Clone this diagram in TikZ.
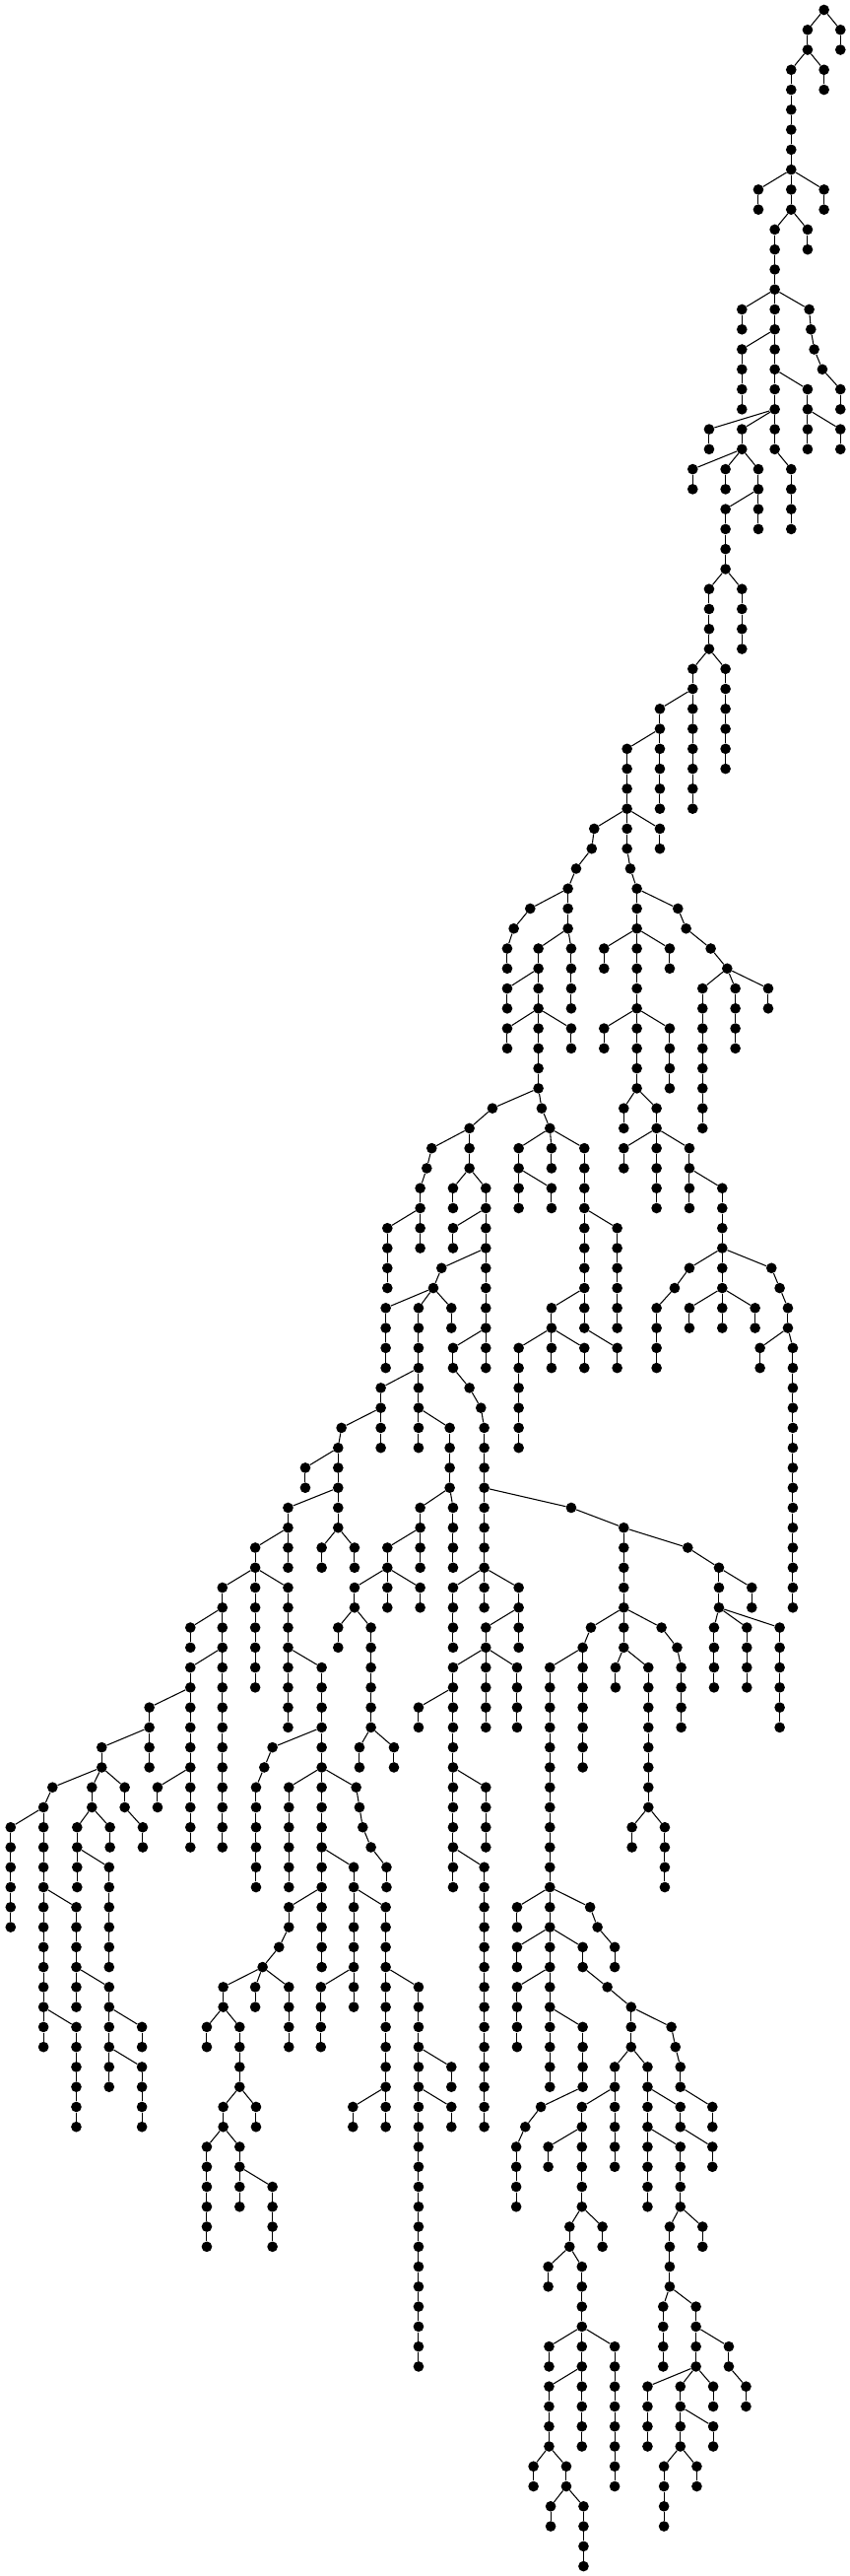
\documentclass[tikz,border=0pt]{standalone}
\tikzset{
  dot/.style={circle,fill=black,inner sep=0pt,minimum size=8pt},
  edge/.style={line width=0.8pt}
}
% one vertical run of dots: parent, name, x, first level, last level
\newcommand\limb[5]{%
  \foreach \lev in {#4,...,#5}{\node[dot] (#2-\lev) at (#3,\lev) {};}
  \draw[edge] (#1) -- (#2-#4);
  \ifnum#4<#5\relax
    \pgfmathtruncatemacro\limbnext{#4+1}%
    \foreach \lev [remember=\lev as \prev (initially #4)] in {\limbnext,...,#5}
      {\draw[edge] (#2-\prev) -- (#2-\lev);}%
  \fi}
\begin{document}
\begin{tikzpicture}[x=12.5pt,y=-15.2pt]
  \useasboundingbox (-0.198,-0.493) rectangle (51.58,128.49);

  % Top of the tree
  \node[dot] (r-0) at (50,0) {};
  \limb{r-0}{b}{49}{1}{2}
  \limb{r-0}{c}{51}{1}{2}
  \limb{b-2}{d}{48}{3}{10}
  \limb{b-2}{e}{50}{3}{4}
  \limb{d-8}{f}{46}{9}{10}
  \limb{d-8}{g}{50}{9}{10}
  \limb{d-10}{h}{47}{11}{22}
  \limb{d-10}{i}{49}{11}{12}
  \limb{h-14}{j}{45}{15}{16}
  \limb{h-14}{k}{49.1}{15}{15}
  \limb{k-15}{k}{49.2}{16}{16}
  \limb{k-16}{k}{49.4}{17}{17}
  \limb{k-17}{k}{49.9}{18}{18}
  \limb{k-18}{m}{51}{19}{20}
  \limb{h-16}{l}{45}{17}{20}
  \limb{h-18}{n}{49}{19}{22}
  \limb{n-20}{o}{51}{21}{22}
  \limb{h-20}{p}{43}{21}{22}
  \limb{h-20}{q}{45}{21}{22}
  \limb{q-22}{s}{42}{23}{24}
  \limb{q-22}{t}{44}{23}{24}
  \limb{q-22}{u}{46}{23}{26}
  \limb{h-22}{v}{48}{23}{26}
  \limb{u-24}{w}{44}{25}{28}

  % Upper trunk
  \limb{w-28}{aa}{43}{29}{32}
  \limb{w-28}{ab}{45}{29}{32}
  \limb{aa-32}{ac}{42}{33}{40}
  \limb{aa-32}{ad}{44}{33}{38}
  \limb{ac-34}{ae}{40}{35}{40}
  \limb{ae-36}{af}{38}{37}{42}
  \limb{af-40}{ag}{36}{41}{41}
  \limb{ag-41}{ag}{35.85}{42}{42}
  \limb{ag-42}{ag}{34.9}{43}{43}
  \limb{ag-43}{ah}{34.4}{44}{46}
  \limb{af-40}{ai}{40}{41}{42}
  \limb{af-42}{aj}{38.2}{43}{43}
  \limb{aj-43}{ak}{38.6}{44}{54}
  \limb{ah-44}{al}{32.1}{45}{45}
  \limb{al-45}{al}{31.1}{46}{46}
  \limb{al-46}{am}{30.7}{47}{48}
  \limb{ak-44}{an}{41.1}{45}{45}
  \limb{an-45}{an}{41.6}{46}{46}
  \limb{an-46}{an}{43.1}{47}{47}
  \limb{an-47}{an}{44.1}{48}{48}
  \limb{ah-46}{ao}{32.6}{47}{54}
  \limb{ah-46}{as}{34.6}{47}{50}
  \limb{ao-48}{ap}{30.7}{49}{50}
  \limb{ao-50}{aq}{30.7}{51}{52}
  \limb{ao-50}{ar}{34.6}{51}{52}
  \limb{ak-46}{at}{36.6}{47}{48}
  \limb{ak-46}{au}{40.6}{47}{48}
  \limb{ak-50}{av}{36.6}{51}{52}
  \limb{ak-50}{aw}{40.6}{51}{54}
  \limb{an-48}{ax}{42.6}{49}{56}
  \limb{an-48}{ay}{44.6}{49}{52}
  \limb{an-48}{az}{46.6}{49}{50}

  % Middle, left part
  \limb{ao-54}{ba}{29.8}{55}{55}
  \limb{ba-55}{bb}{28.4}{56}{58}
  \limb{bb-56}{bc}{26.1}{57}{57}
  \limb{bc-57}{bc}{25.8}{58}{58}
  \limb{bc-58}{bd}{25.4}{59}{62}
  \limb{bd-60}{be}{23.4}{61}{64}
  \limb{bb-58}{bf}{27.4}{59}{60}
  \limb{bb-58}{bg}{29.4}{59}{68}
  \limb{bg-60}{bh}{27.4}{61}{62}
  \limb{bg-62}{bi}{26.7}{63}{63}
  \limb{bi-63}{bi}{26.2}{64}{64}
  \limb{bi-64}{bj}{23.3}{65}{68}
  \limb{bi-64}{bk}{25.3}{65}{72}
  \limb{bi-64}{bn}{27.3}{65}{66}
  \limb{bk-68}{bl}{23}{69}{72}
  \limb{bk-70}{bm}{27.2}{71}{74}
  \limb{bg-66}{bo}{27.4}{67}{68}
  \limb{bo-68}{bp}{28.4}{69}{69}
  \limb{bp-69}{bp}{29.1}{70}{70}
  \limb{bp-70}{bq}{29.3}{71}{80}
  \limb{bq-74}{bs}{34.6}{75}{75}
  \limb{bs-75}{bt}{37.8}{76}{82}
  \limb{bt-76}{bu}{41.7}{77}{77}
  \limb{bu-77}{bv}{43.6}{78}{80}
  \limb{bv-78}{bw}{45.6}{79}{80}

  % Middle, centre part
  \limb{ao-54}{bz}{32.8}{55}{55}
  \limb{bz-55}{bz}{33.3}{56}{56}
  \limb{bz-56}{bx}{31.4}{57}{60}
  \limb{bz-56}{ca}{33.4}{57}{58}
  \limb{bz-56}{cb}{35.4}{57}{66}
  \limb{bx-58}{ch}{33.4}{59}{60}
  \limb{cb-60}{cc}{37.4}{61}{66}
  \limb{cb-64}{cd}{33.4}{65}{68}
  \limb{cb-66}{ce}{37.4}{67}{68}
  \limb{cd-66}{cf}{35.4}{67}{68}
  \limb{cd-66}{cg}{31.4}{67}{72}

  % Middle, right part
  \limb{ak-54}{ci}{37.8}{55}{56}
  \limb{ak-54}{cj}{39.8}{55}{60}
  \limb{cj-56}{ck}{37.8}{57}{58}
  \limb{cj-56}{cl}{41.8}{57}{60}
  \limb{cl-58}{cm}{43.8}{59}{66}
  \limb{cm-62}{cn}{41.8}{63}{63}
  \limb{cn-63}{cn}{40.9}{64}{64}
  \limb{cn-64}{co}{39.8}{65}{68}
  \limb{cm-62}{cp}{46.8}{63}{63}
  \limb{cp-63}{cp}{47.3}{64}{64}
  \limb{cp-64}{cq}{47.8}{65}{66}
  \limb{cq-66}{cr}{46.1}{67}{68}
  \limb{cq-66}{cs}{48.1}{67}{80}
  \limb{cm-64}{ct}{41.8}{65}{66}
  \limb{cm-64}{cu}{45.8}{65}{66}

  % Lower left
  \limb{bl-70}{cv}{20.6}{71}{71}
  \limb{cv-71}{cw}{20.4}{72}{76}
  \limb{cw-72}{cx}{18.4}{73}{74}
  \limb{cw-74}{cy}{17.35}{75}{78}
  \limb{cy-76}{da}{15.35}{77}{84}
  \limb{da-78}{db}{13.35}{79}{92}
  \limb{da-78}{dc}{17.35}{79}{86}
  \limb{db-80}{dd}{11.4}{81}{82}
  \limb{cw-76}{de}{19.4}{77}{78}
  \limb{cw-76}{df}{21.4}{77}{78}
  \limb{bm-74}{dg}{25.4}{75}{78}
  \limb{dg-76}{dh}{23.4}{77}{80}
  \limb{dh-78}{di}{21.4}{79}{80}
  \limb{dh-78}{dj}{25.4}{79}{80}
  \limb{di-80}{dk}{20.4}{81}{82}
  \limb{di-80}{dl}{22.4}{81}{86}
  \limb{dl-86}{dm}{21.7}{87}{88}
  \limb{dl-86}{dn}{23.8}{87}{88}
  \limb{bm-74}{do}{27.4}{75}{78}
  \limb{bq-78}{dp}{27.4}{79}{82}
  \limb{bq-78}{dq}{31.4}{79}{82}
  \limb{dq-80}{dr}{29.4}{81}{86}
  \limb{dr-82}{ds}{27.4}{83}{94}
  \limb{ds-84}{dt}{25.3}{85}{86}
  \limb{ds-88}{du}{29.4}{89}{92}
  \limb{ds-92}{dv}{29.3}{93}{106}
  \limb{dr-82}{dw}{31.3}{83}{86}

  % Lower centre
  \limb{bt-80}{dx}{35.8}{81}{81}
  \limb{dx-81}{dy}{35.3}{82}{88}
  \limb{dy-82}{dz}{33.3}{83}{104}
  \limb{dz-94}{ea}{31.3}{95}{96}
  \limb{dz-94}{eb}{35.75}{95}{95}
  \limb{eb-95}{eb}{36.2}{96}{96}
  \limb{eb-96}{ec}{37.25}{97}{98}
  \limb{dz-96}{ed}{31.3}{97}{98}
  \limb{dz-96}{ee}{35.3}{97}{98}
  \limb{ee-98}{ef}{36.8}{99}{99}
  \limb{ef-99}{eg}{38.25}{100}{102}
  \limb{eg-100}{eh}{40.7}{101}{101}
  \limb{eh-101}{eh}{40.95}{102}{102}
  \limb{eh-102}{ei}{41.25}{103}{104}
  \limb{dz-98}{ej}{31.3}{99}{102}
  \limb{dz-100}{ek}{35.3}{101}{104}
  \limb{eg-102}{el}{37.25}{103}{108}
  \limb{eg-102}{em}{39.25}{103}{110}
  \limb{ek-104}{en}{32.75}{105}{105}
  \limb{en-105}{en}{31.8}{106}{106}
  \limb{en-106}{eo}{31.25}{107}{110}
  \limb{el-104}{ep}{35.25}{105}{110}
  \limb{ep-106}{eq}{33.2}{107}{108}
  \limb{em-104}{er}{41.25}{105}{106}
  \limb{ei-104}{es}{43.2}{105}{106}
  \limb{er-106}{et}{43.2}{107}{108}
  \limb{em-106}{eu}{41.25}{107}{110}
  \limb{eu-110}{ev}{42.6}{111}{112}
  \limb{eu-110}{ew}{40.6}{111}{114}
  \limb{ew-114}{ex}{40.2}{115}{118}
  \limb{ew-114}{ey}{42.2}{115}{118}
  \limb{ey-116}{ez}{44.2}{117}{118}
  \limb{ez-118}{fa}{45.25}{119}{120}
  \limb{ey-118}{fb}{39.25}{119}{122}
  \limb{ey-118}{fc}{41.25}{119}{122}
  \limb{fc-120}{fd}{43.25}{121}{122}
  \limb{ey-118}{fe}{43.25}{119}{120}
  \limb{fc-122}{ff}{40.25}{123}{126}
  \limb{fc-122}{fg}{42.25}{123}{124}
  \limb{ep-110}{fh}{36.5}{111}{112}
  \limb{ep-110}{fi}{34.5}{111}{112}
  \limb{fi-112}{fj}{33.2}{113}{114}
  \limb{fi-112}{fk}{35.25}{113}{122}
  \limb{fk-116}{fl}{33.25}{117}{118}
  \limb{fk-116}{fm}{37.25}{117}{124}
  \limb{fk-118}{fn}{33.25}{119}{122}
  \limb{fn-122}{fo}{32.3}{123}{124}
  \limb{fn-122}{fp}{34.3}{123}{124}
  \limb{fp-124}{fq}{33.35}{125}{126}
  \limb{fp-124}{fr}{35.35}{125}{128}

  % Lower right
  \limb{bt-80}{fs}{40.1}{81}{81}
  \limb{fs-81}{fs}{41.05}{82}{82}
  \limb{fs-82}{ft}{41.3}{83}{86}
  \limb{bt-82}{fu}{37.3}{83}{84}
  \limb{bt-82}{fv}{39.3}{83}{90}
  \limb{fv-90}{fw}{38.3}{91}{92}
  \limb{fv-90}{fx}{40.3}{91}{94}
  \limb{bv-80}{fy}{43.3}{81}{84}
  \limb{bv-80}{fz}{45.3}{81}{84}
  \limb{bv-80}{ga}{47.3}{81}{86}

  % Far left
  \limb{db-82}{gb}{11.4}{83}{92}
  \limb{gb-84}{gc}{8.9}{85}{88}
  \limb{gc-86}{gd}{6}{87}{88}
  \limb{gb-88}{ge}{9.4}{89}{90}
  \limb{gd-88}{gf}{3}{89}{89}
  \limb{gf-89}{gg}{2.45}{90}{102}
  \limb{gg-90}{gh}{0.45}{91}{96}
  \limb{gd-88}{gi}{5.4}{89}{90}
  \limb{gi-90}{gj}{4.5}{91}{94}
  \limb{gi-90}{gk}{6.5}{91}{92}
  \limb{gj-92}{gl}{6.45}{93}{98}
  \limb{gd-88}{gm}{7.4}{89}{90}
  \limb{gm-90}{gn}{8.5}{91}{92}
  \limb{gg-94}{go}{4.45}{95}{100}
  \limb{go-98}{gp}{6.45}{99}{104}
  \limb{gg-100}{gq}{4.45}{101}{106}
  \limb{gp-100}{gr}{8.45}{101}{102}
  \limb{gp-102}{gs}{8.45}{103}{106}

  % Bottom left-centre
  \limb{dc-82}{gt}{19.4}{83}{98}
  \limb{gt-86}{gu}{16.4}{87}{87}
  \limb{gu-87}{gu}{15.9}{88}{88}
  \limb{gu-88}{gv}{15.4}{89}{94}
  \limb{gt-88}{gw}{17.4}{89}{94}
  \limb{gt-88}{gx}{21.5}{89}{89}
  \limb{gx-89}{gx}{21.7}{90}{90}
  \limb{gx-90}{gx}{21.9}{91}{91}
  \limb{gx-91}{gx}{22.4}{92}{92}
  \limb{gx-92}{gy}{23.35}{93}{94}
  \limb{gt-92}{gz}{21.35}{93}{100}
  \limb{gt-94}{ha}{17.4}{95}{96}
  \limb{ha-96}{hb}{16.8}{97}{97}
  \limb{hb-97}{hb}{15.8}{98}{98}
  \limb{hb-98}{hc}{13.4}{99}{100}
  \limb{hb-98}{hd}{15.35}{99}{100}
  \limb{hb-98}{he}{17.4}{99}{102}
  \limb{hc-100}{hf}{12.4}{101}{102}
  \limb{hc-100}{hg}{14.4}{101}{104}
  \limb{hg-104}{hh}{13.4}{105}{106}
  \limb{hg-104}{hi}{15.4}{105}{106}
  \limb{hh-106}{hj}{12.4}{107}{112}
  \limb{hh-106}{hk}{14.4}{107}{110}
  \limb{hk-108}{hl}{16.4}{109}{112}
  \limb{gz-98}{hm}{19.35}{99}{102}
  \limb{gz-94}{hn}{23.3}{95}{106}
  \limb{hn-104}{ho}{21.3}{105}{106}
  \limb{hn-98}{hp}{25.3}{99}{118}
  \limb{hp-102}{hq}{27.3}{103}{104}
  \limb{hp-104}{hr}{27.3}{105}{106}
\end{tikzpicture}
\end{document}
